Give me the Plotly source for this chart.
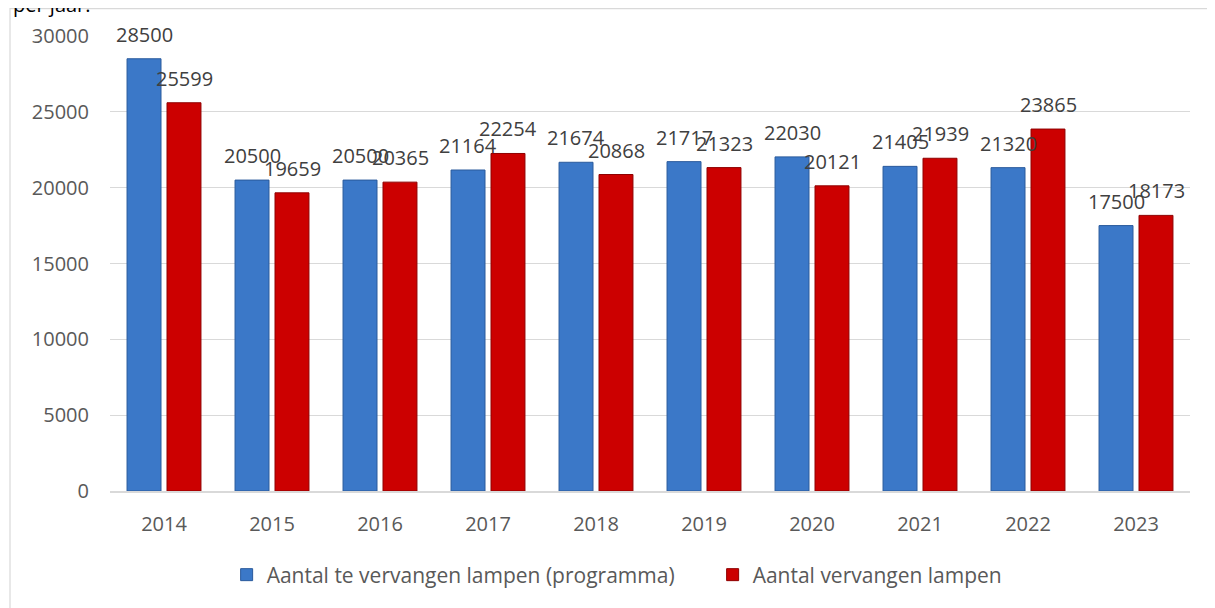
import plotly.graph_objects as go

years = ["2014", "2015", "2016", "2017", "2018", "2019", "2020", "2021", "2022", "2023"]
programma = [28500, 20500, 20500, 21164, 21674, 21717, 22030, 21405, 21320, 17500]
vervangen = [25599, 19659, 20365, 22254, 20868, 21323, 20121, 21939, 23865, 18173]
y_ticks = [0, 5000, 10000, 15000, 20000, 25000, 30000]
y_ticklabels = [str(v) for v in y_ticks]

FONT = "Open Sans"
LABEL_COLOR = "#404040"
AXIS_COLOR = "#595959"

fig = go.Figure()
fig.add_trace(go.Bar(
    x=years, y=programma, name="Aantal te vervangen lampen (programma)",
    marker=dict(color="#3b78c8", line=dict(color="#2a5a9c", width=1)),
))
fig.add_trace(go.Bar(
    x=years, y=vervangen, name="Aantal vervangen lampen",
    marker=dict(color="#cc0000", line=dict(color="#8f0000", width=1)),
))

# value labels, placed above each bar through the axes' own scales
# (x given as the category index of each year)
labels = []
for series, shift in ((programma, -20), (vervangen, 20)):
    for idx, val in enumerate(series):
        labels.append(dict(
            x=idx, y=val, xref="x", yref="y", text=str(val), showarrow=False,
            xanchor="center", yanchor="bottom", xshift=shift, yshift=9,
            font=dict(family=FONT, size=20, color=LABEL_COLOR),
        ))
labels.append(dict(text="per jaar:", xref="paper", yref="paper", x=-0.092, y=1.0,
                   xanchor="left", yanchor="bottom", yshift=16, showarrow=False,
                   font=dict(family=FONT, size=20, color="#000000")))

fig.update_layout(
    width=1215, height=608,
    margin=dict(l=102, r=33, t=28, b=125, autoexpand=False),
    paper_bgcolor="white", plot_bgcolor="white",
    barmode="group", bargap=0.26, bargroupgap=0.15,
    font=dict(family=FONT, size=20, color=AXIS_COLOR),
    showlegend=True,
    legend=dict(orientation="h", x=0.108, xanchor="left", y=-0.1846, yanchor="middle",
                font=dict(family=FONT, size=21, color=AXIS_COLOR), itemwidth=30,
                entrywidth=441, entrywidthmode="pixels"),
    xaxis=dict(type="category", showline=True, linecolor="#d9d9d9", linewidth=1.5, ticks="",
               tickfont=dict(size=20, color=AXIS_COLOR), ticklabelstandoff=14),
    yaxis=dict(range=[0, 30000], tickvals=y_ticks, ticktext=y_ticklabels,
               showgrid=True, gridcolor="#d9d9d9",
               gridwidth=1, zeroline=False, showline=False,
               tickfont=dict(size=20, color=AXIS_COLOR), ticklabelstandoff=20),
    shapes=[dict(type="rect", xref="paper", yref="paper",
                 x0=-0.0926, x1=1.05, y0=-0.3, y1=1.0602,
                 line=dict(color="#d9d9d9", width=1.2), layer="below")],
    annotations=labels,
)
fig.write_html("out.html")
